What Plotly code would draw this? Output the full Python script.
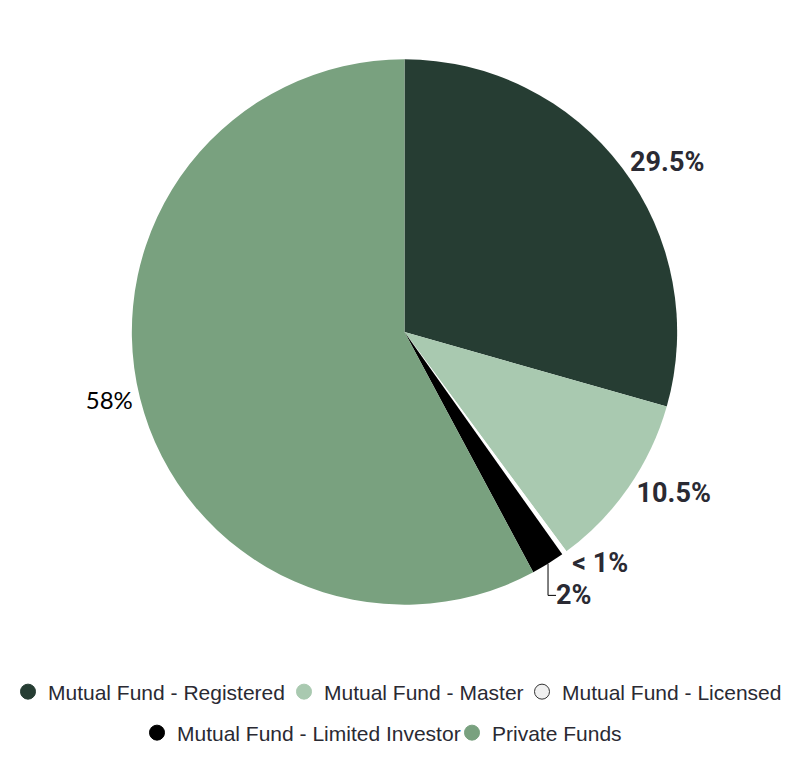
import plotly.graph_objects as go

# slice data (clockwise from 12 o'clock)
labels = ["Mutual Fund - Registered", "Mutual Fund - Master", "Mutual Fund - Licensed",
          "Mutual Fund - Limited Investor", "Private Funds"]
values = [29.5, 10.5, 0.3, 2.0, 58.0]
text_labels = ["29.5%", "10.5%", "< 1%", "2%", "58%"]
colors = ["#263d33", "#a9c9b0", "#ffffff", "#000000", "#79a17f"]
legend_colors = ["#263d33", "#a9c9b0", "#f0f0f0", "#000000", "#79a17f"]

# page is drawn with an 8px body margin
W, H = 784, 752
OFF = 8

fig = go.Figure()

fig.add_trace(go.Pie(
    labels=labels,
    values=values,
    text=text_labels,
    textinfo="text",
    textposition="outside",
    sort=False,
    direction="clockwise",
    rotation=0,
    domain=dict(x=[(131 - OFF) / W, (677 - OFF) / W],
                y=[1 - (605 - OFF) / H, 1 - (59 - OFF) / H]),
    marker=dict(colors=colors, line=dict(width=0)),
    textfont=dict(
        family=["Roboto", "Roboto", "Roboto", "Roboto", "Lato"],
        size=[27, 27, 27, 27, 24],
        color=["#2a2a33", "#2a2a33", "#2a2a33", "#2a2a33", "#000000"],
        weight=["bold", "bold", "bold", "bold", "normal"],
    ),
    showlegend=False,
    hoverinfo="label+percent",
))

# one legend per entry so the two rows sit where the reference has them
legend_ids = ["legend", "legend2", "legend3", "legend4", "legend5"]
text_x = [47, 324, 562, 177, 492]   # where each entry's text starts (page px)
row_y = [692, 692, 692, 733, 733]

legend_layout = {}
for name, col, lg, tx, ty in zip(labels, legend_colors, legend_ids, text_x, row_y):
    line_col = "#333333" if col == "#f0f0f0" else col
    fig.add_trace(go.Scatter(
        x=[None], y=[None], mode="markers", name=name,
        marker=dict(size=15, color=col, symbol="circle",
                    line=dict(width=1, color=line_col)),
        legend=lg, hoverinfo="skip",
    ))
    legend_layout[lg] = dict(
        x=(tx - OFF - 40) / W, y=1 - (ty - OFF) / H,
        xanchor="left", yanchor="middle", orientation="h",
        font=dict(family="Liberation Sans, Arial", size=21, color="#2a2a33"),
        bgcolor="rgba(0,0,0,0)", itemclick=False, itemdoubleclick=False,
    )

fig.update_layout(
    width=W, height=H,
    margin=dict(l=0, r=0, t=0, b=0),
    paper_bgcolor="white", plot_bgcolor="white",
    xaxis=dict(visible=False), yaxis=dict(visible=False),
    **legend_layout,
)

fig.write_html("out.html")
